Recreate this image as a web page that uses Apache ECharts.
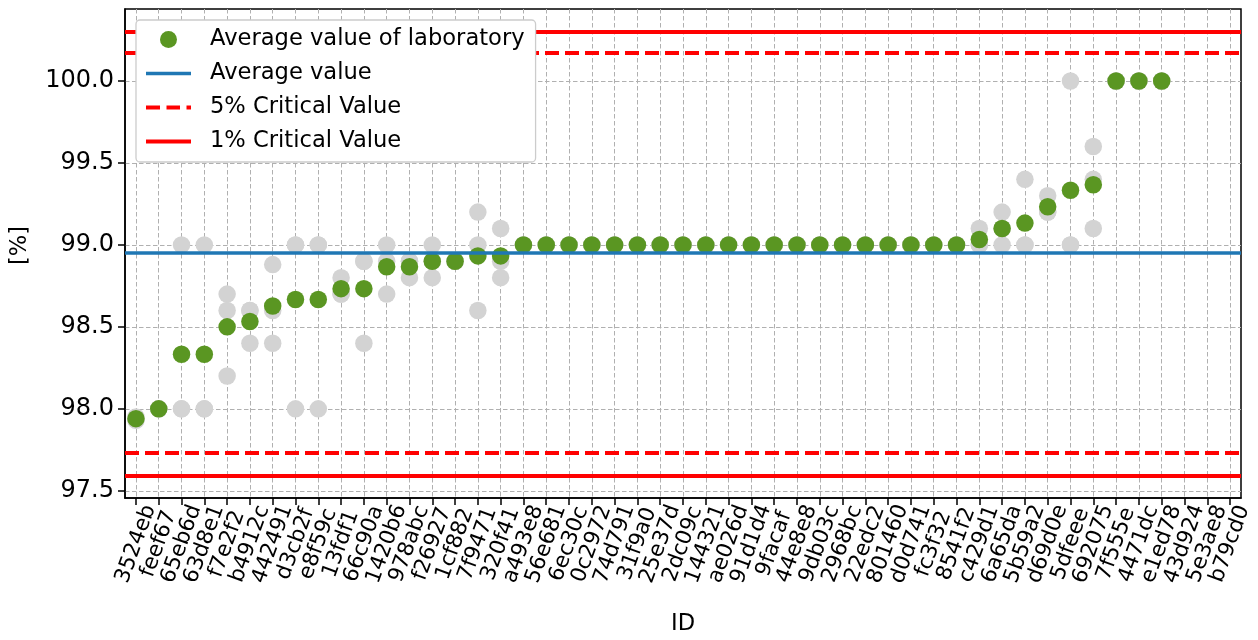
<!DOCTYPE html>
<html>
<head>
<meta charset="utf-8">
<script src="https://cdn.jsdelivr.net/npm/echarts@6/dist/echarts.min.js"></script>
<style>
html,body{margin:0;padding:0;background:#fff;}
#chart{width:1258px;height:640px;}
</style>
</head>
<body>
<div id="chart"></div>
<script>
// ---------- data ----------
const ids = ['3524eb','feef67','65eb6d','63d8e1','f7e2f2','b4912c','442491','d3cb2f','e8f59c','13fdf1',
  '66c90a','1420b6','978abc','f26927','1cf882','7f9471','320f41','a493e8','56e681','6ec30c',
  '0c2972','74d791','31f9a0','25e37d','2dc09c','144321','ae026d','91d1d4','9facaf','44e8e8',
  '9db03c','2968bc','22edc2','801460','d0d741','fc3f32','8541f2','c429d1','6a65da','5b59a2',
  'd69d0e','5dfeee','692075','7f555e','4471dc','e1ed78','43d924','5e3ae8','b79cd0'];

const labAverage = [97.94, 98.0, 98.333, 98.333, 98.5, 98.533, 98.627, 98.667, 98.667, 98.733,
  98.733, 98.867, 98.867, 98.9, 98.9, 98.933, 98.933, 99.0, 99.0, 99.0,
  99.0, 99.0, 99.0, 99.0, 99.0, 99.0, 99.0, 99.0, 99.0, 99.0,
  99.0, 99.0, 99.0, 99.0, 99.0, 99.0, 99.0, 99.033, 99.1, 99.133,
  99.233, 99.333, 99.367, 100.0, 100.0, 100.0, null, null, null];

const replicate1 = [97.93, 98.0, 99.0, 99.0, 98.7, 98.6, 98.88, 99.0, 99.0, 98.8,
  98.9, 99.0, 98.9, 99.0, 98.9, 99.2, 99.1, 99.0, 99.0, 99.0,
  99.0, 99.0, 99.0, 99.0, 99.0, 99.0, 99.0, 99.0, 99.0, 99.0,
  99.0, 99.0, 99.0, 99.0, 99.0, 99.0, 99.0, 99.1, 99.2, 99.4,
  99.3, 100.0, 99.6, 100.0, 100.0, 100.0, null, null, null];
const replicate2 = [97.94, 98.0, 98.0, 98.0, 98.6, 98.6, 98.6, 99.0, 99.0, 98.7,
  98.9, 98.9, 98.9, 98.9, 98.9, 99.0, 98.9, 99.0, 99.0, 99.0,
  99.0, 99.0, 99.0, 99.0, 99.0, 99.0, 99.0, 99.0, 99.0, 99.0,
  99.0, 99.0, 99.0, 99.0, 99.0, 99.0, 99.0, 99.0, 99.1, 99.0,
  99.2, 99.0, 99.4, 100.0, 100.0, 100.0, null, null, null];
const replicate3 = [97.95, 98.0, 98.0, 98.0, 98.2, 98.4, 98.4, 98.0, 98.0, 98.7,
  98.4, 98.7, 98.8, 98.8, 98.9, 98.6, 98.8, 99.0, 99.0, 99.0,
  99.0, 99.0, 99.0, 99.0, 99.0, 99.0, 99.0, 99.0, 99.0, 99.0,
  99.0, 99.0, 99.0, 99.0, 99.0, 99.0, 99.0, 99.0, 99.0, 99.0,
  99.2, 99.0, 99.1, 100.0, 100.0, 100.0, null, null, null];

const averageValue = [98.949];
const critical5 = [100.167, 97.728];
const critical1 = [100.303, 97.592];

const yTicks = [97.5, 98.0, 98.5, 99.0, 99.5, 100.0];
const xTicks = ids.map((_, i) => i);

// ---------- chart ----------
const FONT = 'DejaVu Sans';
const GREEN = '#5a9622';
const GRAY = '#d3d3d3';
const BLUE = '#1f77b4';
const RED = '#ff0000';
const X_MIN = -0.48, X_MAX = 48.48;
const gridLine = {show: true, lineStyle: {color: '#b0b0b0', width: 1, type: [4.5, 2.5]}};

const toPts = arr => arr.map((v, i) => v == null ? null : [i, v]).filter(p => p);
// placeholder labels at the axis ends so that the min/max-label overlap rule drops them, not real IDs
const xLabelValues = [X_MIN].concat(xTicks, [X_MAX]);

const chart = echarts.init(document.getElementById('chart'), null, {renderer: 'canvas'});
const refLine = (name, values, color, width, type) => ({
  type: 'line', name, data: [], z: 4, silent: true, symbol: 'none',
  itemStyle: {color}, lineStyle: {color, width, type},
  markLine: {silent: true, symbol: ['none', 'none'], label: {show: false}, animation: false,
    lineStyle: {color, width, type}, emphasis: {disabled: true},
    data: values.map(v => ({yAxis: v}))}
});

const option = {
  animation: false,
  backgroundColor: '#fff',
  textStyle: {fontFamily: FONT},
  grid: {left: 125, right: 17, top: 9, bottom: 142, show: true, borderColor: '#000', borderWidth: 1.5,
         backgroundColor: 'transparent', containLabel: false, outerBoundsMode: 'none'},
  legend: {
    orient: 'vertical', left: 136, top: 20, z: 20,
    padding: [8, 11, 9, 10],
    itemWidth: 45, itemHeight: 17, itemGap: 11,
    symbolKeepAspect: true,
    backgroundColor: '#ffffff', borderColor: '#cccccc', borderWidth: 1.3, borderRadius: 4,
    textStyle: {fontFamily: FONT, fontSize: 22.6, color: '#000', padding: [0, 0, 0, 14]},
    data: [
      {name: 'Average value of laboratory', icon: 'circle', itemStyle: {color: GREEN, opacity: 1}},
      {name: 'Average value', icon: 'path://M0,0H45V3.5H0Z', itemStyle: {color: BLUE}},
      {name: '5% Critical Value', icon: 'path://M0,0H14V4H0Z M20.5,0H34V4H20.5Z M40.5,0H45V4H40.5Z', itemStyle: {color: RED}},
      {name: '1% Critical Value', icon: 'path://M0,0H45V4H0Z', itemStyle: {color: RED}}
    ],
    selectedMode: false
  },
  xAxis: {
    type: 'value', min: X_MIN, max: X_MAX,
    name: 'ID', nameLocation: 'middle', nameGap: 115,
    nameTextStyle: {fontFamily: FONT, fontSize: 22.6, color: '#000', verticalAlign: 'top'},
    axisLine: {show: true, onZero: false, lineStyle: {color: '#000', width: 1.5}},
    axisTick: {show: true, length: 7, lineStyle: {color: '#000', width: 1.5}, customValues: xTicks},
    axisLabel: {show: true, customValues: xLabelValues, rotate: 70, align: 'center', verticalAlign: 'middle',
      margin: 46, fontFamily: FONT, fontSize: 21.5, color: '#000', hideOverlap: false,
      showMinLabel: false, showMaxLabel: false, interval: 0,
      formatter: v => {
        const i = Math.round(v);
        return (Math.abs(v - i) < 1e-6 && ids[i]) ? ids[i] : ' ';
      }},
    splitLine: gridLine
  },
  yAxis: {
    type: 'value', min: 97.456, max: 100.439,
    name: '[%]', nameLocation: 'middle', nameGap: 93, nameRotate: 90,
    nameTextStyle: {fontFamily: FONT, fontSize: 22.6, color: '#000', padding: [0, 0, 0, 16]},
    axisLine: {show: true, onZero: false, lineStyle: {color: '#000', width: 1.5}},
    axisTick: {show: true, length: 7, lineStyle: {color: '#000', width: 1.5}, customValues: yTicks},
    axisLabel: {show: true, customValues: yTicks, margin: 11, fontFamily: FONT, fontSize: 24, color: '#000',
      showMinLabel: true, showMaxLabel: true,
      formatter: v => Number(v).toFixed(1)},
    splitLine: gridLine
  },
  series: [
    {type: 'scatter', name: 'rep1', data: toPts(replicate1), symbol: 'circle', symbolSize: 17.5,
     itemStyle: {color: GRAY, opacity: 1}, z: 2, silent: true},
    {type: 'scatter', name: 'rep2', data: toPts(replicate2), symbol: 'circle', symbolSize: 17.5,
     itemStyle: {color: GRAY, opacity: 1}, z: 2, silent: true},
    {type: 'scatter', name: 'rep3', data: toPts(replicate3), symbol: 'circle', symbolSize: 17.5,
     itemStyle: {color: GRAY, opacity: 1}, z: 2, silent: true},
    {type: 'scatter', name: 'Average value of laboratory', data: toPts(labAverage), symbol: 'circle',
     symbolSize: 17.5, itemStyle: {color: GREEN, opacity: 1}, z: 3, silent: true},
    refLine('Average value', averageValue, BLUE, 3.5, 'solid'),
    refLine('5% Critical Value', critical5, RED, 3.8, [14, 6]),
    refLine('1% Critical Value', critical1, RED, 3.8, 'solid')
  ]
};
chart.setOption(option);
</script>
</body>
</html>
